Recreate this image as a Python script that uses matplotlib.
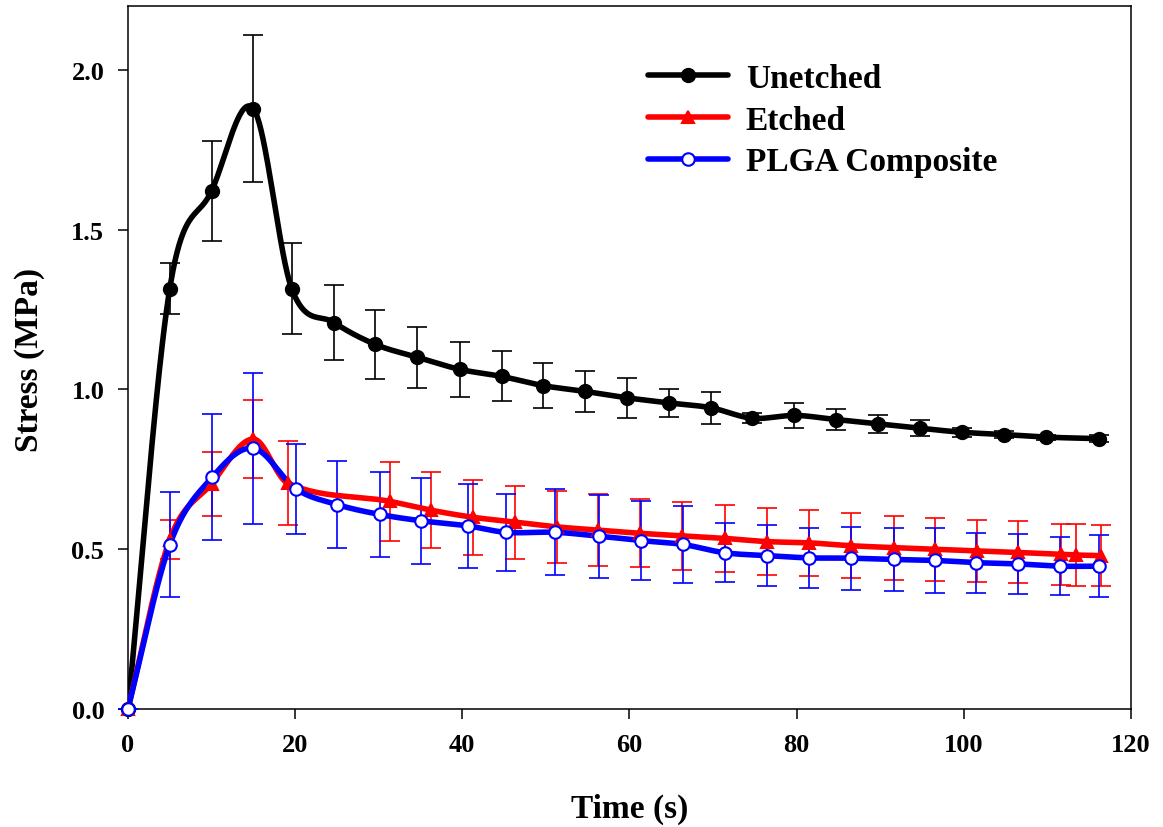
import numpy as np
import matplotlib
matplotlib.use('Agg')
import matplotlib.pyplot as plt
from matplotlib.lines import Line2D

plt.rcParams['font.family'] = ['Liberation Serif', 'DejaVu Serif']
plt.rcParams['font.weight'] = 'bold'

# Unetched
t_un = [0, 5.0, 10.0, 15.0, 19.6, 24.7, 29.6, 34.6, 39.7, 44.7, 49.7, 54.7, 59.7,
        64.7, 69.7, 74.7, 79.7, 84.7, 89.7, 94.7, 99.8, 104.8, 109.8, 116.2]
s_un = [0, 1.315, 1.621, 1.879, 1.315, 1.209, 1.141, 1.101, 1.063, 1.041, 1.012, 0.994, 0.974,
        0.958, 0.943, 0.910, 0.919, 0.906, 0.893, 0.879, 0.866, 0.859, 0.851, 0.846]
e_un = [0, 0.080, 0.156, 0.229, 0.142, 0.117, 0.108, 0.096, 0.087, 0.078, 0.070, 0.063, 0.062,
        0.045, 0.050, 0.016, 0.038, 0.033, 0.028, 0.024, 0.014, 0.012, 0.008, 0.010]

# Etched
t_et = [0, 5.0, 10.0, 15.0, 19.1, 31.3, 36.3, 41.3, 46.3, 51.3, 56.2, 61.2, 66.3, 71.4,
        76.4, 81.5, 86.5, 91.6, 96.5, 101.6, 106.5, 111.6, 113.4, 116.4]
s_et = [0, 0.530, 0.705, 0.845, 0.707, 0.650, 0.622, 0.600, 0.585, 0.570, 0.560, 0.550, 0.542, 0.534,
        0.524, 0.520, 0.511, 0.505, 0.500, 0.495, 0.490, 0.484, 0.482, 0.480]
e_et = [0, 0.060, 0.100, 0.123, 0.131, 0.124, 0.119, 0.117, 0.114, 0.112, 0.113, 0.107, 0.107, 0.104,
        0.104, 0.103, 0.102, 0.100, 0.099, 0.097, 0.097, 0.096, 0.096, 0.096]

# PLGA Composite
t_pl = [0, 5.0, 10.1, 15.0, 20.1, 25.0, 30.1, 35.1, 40.7, 45.2, 51.1, 56.3, 61.4, 66.4,
        71.4, 76.5, 81.5, 86.5, 91.6, 96.5, 101.5, 106.5, 111.5, 116.2]
s_pl = [0, 0.514, 0.726, 0.816, 0.689, 0.640, 0.609, 0.589, 0.573, 0.553, 0.553, 0.541, 0.527, 0.515,
        0.489, 0.480, 0.473, 0.472, 0.468, 0.465, 0.458, 0.454, 0.447, 0.447]
e_pl = [0, 0.165, 0.196, 0.236, 0.140, 0.135, 0.133, 0.134, 0.131, 0.121, 0.134, 0.130, 0.124, 0.120,
        0.093, 0.095, 0.094, 0.099, 0.098, 0.101, 0.094, 0.094, 0.090, 0.097]


def smooth_curve(x, y, n=40):
    # Catmull-Rom style Hermite curve through the points (drawing only)
    x = np.asarray(x, float)
    y = np.asarray(y, float)
    m = np.empty_like(y)
    m[1:-1] = (y[2:] - y[:-2]) / (x[2:] - x[:-2])
    m[0] = (y[1] - y[0]) / (x[1] - x[0])
    m[-1] = (y[-1] - y[-2]) / (x[-1] - x[-2])
    xs, ys = [], []
    for i in range(len(x) - 1):
        h = x[i + 1] - x[i]
        u = np.linspace(0, 1, n, endpoint=False)
        h00 = 2 * u**3 - 3 * u**2 + 1
        h10 = u**3 - 2 * u**2 + u
        h01 = -2 * u**3 + 3 * u**2
        h11 = u**3 - u**2
        xs.append(x[i] + u * h)
        ys.append(h00 * y[i] + h10 * h * m[i] + h01 * y[i + 1] + h11 * h * m[i + 1])
    xs.append([x[-1]])
    ys.append([y[-1]])
    return np.concatenate(xs), np.concatenate(ys)


fig = plt.figure(figsize=(11.63, 8.28), dpi=100)
ax = fig.add_axes([0.110, 0.1425, 0.8625, 0.849])

series = [
    (t_un, s_un, e_un, 'black', 'o', 'black', 9.5, 'Unetched'),
    (t_et, s_et, e_et, 'red', '^', 'red', 8, 'Etched'),
    (t_pl, s_pl, e_pl, 'blue', 'o', 'white', 9, 'PLGA Composite'),
]

handles = []
for k, (t, s, e, col, mk, face, ms, lab) in enumerate(series):
    ax.errorbar(t, s, yerr=e, fmt='none', ecolor=col, elinewidth=1.2,
                capsize=7.5, capthick=1.2, zorder=2 + k, clip_on=False)
    xs, ys = smooth_curve(t, s)
    ax.plot(xs, ys, color=col, lw=4, zorder=5 + k, solid_capstyle='round')
    ax.plot(t, s, ls='none', marker=mk, ms=ms, mfc=face, mec=col, mew=1.5,
            zorder=8 + k, clip_on=False)
    handles.append(Line2D([], [], color=col, lw=4, marker=mk, ms=ms, mfc=face,
                          mec=col, mew=1.5, solid_capstyle='round', label=lab))

ax.set_xlim(0, 120)
ax.set_ylim(0, 2.2)
ax.set_xticks([0, 20, 40, 60, 80, 100, 120])
ax.set_yticks([0.0, 0.5, 1.0, 1.5, 2.0])
ax.set_yticklabels(['0.0', '0.5', '1.0', '1.5', '2.0'])
ax.tick_params(direction='out', length=7, width=1.1, labelsize=19, pad=10)
for sp in ax.spines.values():
    sp.set_linewidth(1.1)

ax.set_xlabel('Time (s)', fontsize=24, fontweight='bold')
ax.set_ylabel('Stress (MPa)', fontsize=24, fontweight='bold')
ax.xaxis.set_label_coords(0.5, -0.142)
ax.xaxis.label.set_va('center')
ax.yaxis.set_label_coords(-0.098, 0.498)
ax.yaxis.label.set_va('center')

ax.legend(handles=handles, loc='upper left', bbox_to_anchor=(0.518, 0.919),
          frameon=False, borderpad=0, borderaxespad=0, fontsize=24,
          handlelength=2.4, handletextpad=0.55, labelspacing=0.32, numpoints=1)

fig.savefig('out.png', dpi=100)
